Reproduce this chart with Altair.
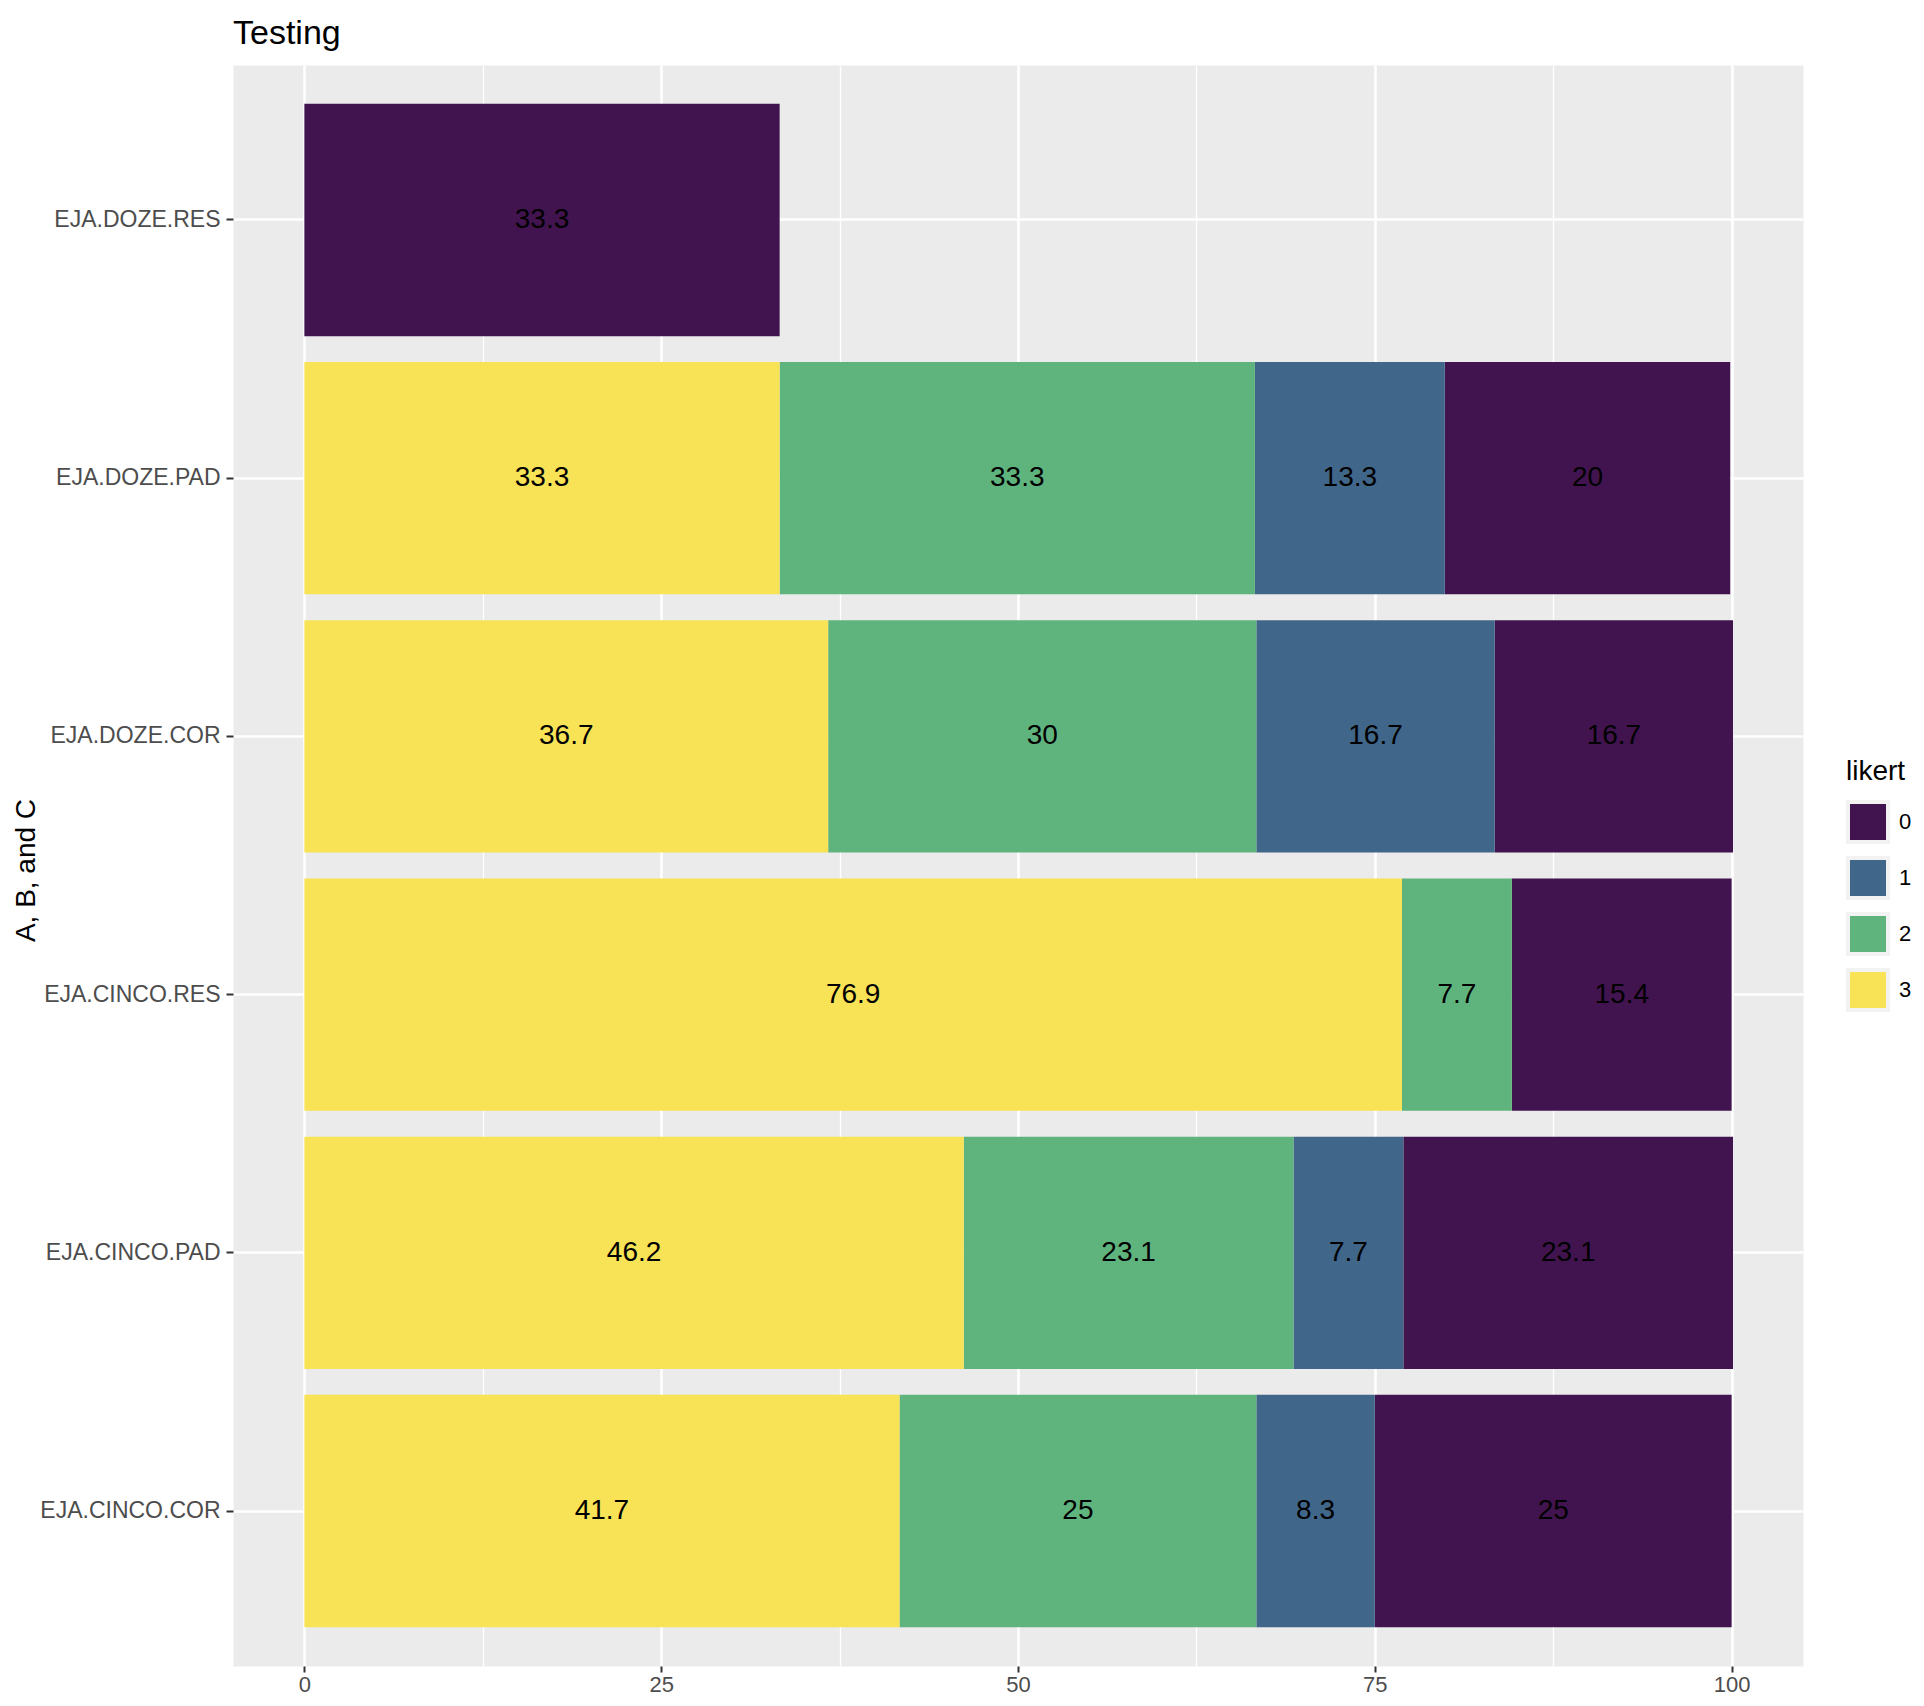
import altair as alt
import pandas as pd

categories = ["EJA.DOZE.RES", "EJA.DOZE.PAD", "EJA.DOZE.COR",
              "EJA.CINCO.RES", "EJA.CINCO.PAD", "EJA.CINCO.COR"]
likert_levels = ["0", "1", "2", "3"]
level_colors = ["#42144F", "#40668A", "#5FB47E", "#F8E356"]

# percentage of each likert level per category (None = level absent)
pct_0 = [33.3, 20, 16.7, 15.4, 23.1, 25]
pct_1 = [None, 13.3, 16.7, None, 7.7, 8.3]
pct_2 = [None, 33.3, 30, 7.7, 23.1, 25]
pct_3 = [None, 33.3, 36.7, 76.9, 46.2, 41.7]

x_tick_values = [0, 12.5, 25, 37.5, 50, 62.5, 75, 87.5, 100]

rows = []
for lvl, series in zip(likert_levels, [pct_0, pct_1, pct_2, pct_3]):
    for cat, v in zip(categories, series):
        if v is not None:
            rows.append({"cat": cat, "likert": lvl, "value": v})
df = pd.DataFrame(rows)

FONT = "Liberation Sans"

base = alt.Chart(df).transform_stack(
    stack="value",
    groupby=["cat"],
    as_=["x0", "x1"],
    sort=[alt.SortField("likert", order="descending")],
).transform_calculate(mid="(datum.x0 + datum.x1) / 2")

y_enc = alt.Y(
    "cat:N",
    sort=categories,
    scale=alt.Scale(paddingInner=0.1, paddingOuter=0.15),
    axis=alt.Axis(
        title="A, B, and C",
        bandPosition=0.5,
        grid=True,
        gridColor="white",
        gridWidth=2.6,
        gridOpacity=1,
        domain=False,
        tickColor="#333333",
        tickWidth=2,
        tickSize=7,
        labelFontSize=23,
        labelColor="#4D4D4D",
        labelFont=FONT,
        labelPadding=6,
        labelLimit=0,
        titleFont=FONT,
        titleFontSize=28,
        titleFontWeight="normal",
        titleColor="black",
        titleX=-199,
        titleY=805,
        titleAngle=270,
        titleAlign="center",
        titleBaseline="alphabetic",
    ),
)

x_scale = alt.Scale(domain=[-5, 105], nice=False, zero=False)

bars = base.mark_bar().encode(
    y=y_enc,
    x=alt.X(
        "x0:Q",
        scale=x_scale,
        title=None,
        axis=alt.Axis(
            values=x_tick_values,
            labelExpr="datum.value % 25 == 0 ? datum.label : ''",
            tickOpacity={"condition": {"test": "datum.value % 25 != 0", "value": 0}, "value": 1},
            gridWidth={"condition": {"test": "datum.value % 25 != 0", "value": 1.3}, "value": 2.6},
            gridColor="white",
            gridOpacity=1,
            domain=False,
            tickColor="#333333",
            tickWidth=2,
            tickSize=6,
            labelFontSize=22,
            labelColor="#4D4D4D",
            labelFont=FONT,
            labelPadding=2,
            labelFlush=False,
            labelOverlap=False,
        ),
    ),
    x2="x1:Q",
    color=alt.Color(
        "likert:N",
        scale=alt.Scale(domain=likert_levels, range=level_colors),
        legend=alt.Legend(
            title="likert",
            orient="none",
            legendX=1613,
            legendY=693,
            padding=0,
            offset=0,
            titleFont=FONT,
            titleFontSize=28,
            titleFontWeight="normal",
            titleColor="black",
            titlePadding=14,
            labelFont=FONT,
            labelFontSize=22,
            labelColor="black",
            labelOffset=9,
            symbolType="square",
            symbolSize=1600,
            symbolStrokeColor="#F2F2F2",
            symbolStrokeWidth=4,
            symbolOpacity=1,
            rowPadding=0,
        ),
    ),
)

labels = base.mark_text(fontSize=28, color="black", font=FONT).encode(
    y=alt.Y("cat:N", sort=categories),
    x=alt.X("mid:Q", scale=x_scale),
    text=alt.Text("value:Q", format="~g"),
)

chart = alt.layer(bars, labels).properties(
    width=1570,
    height=1601,
    title=alt.TitleParams(
        text="Testing",
        anchor="start",
        frame="group",
        fontSize=34,
        fontWeight="normal",
        color="black",
        font=FONT,
        offset=14,
    ),
    autosize=alt.AutoSizeParams(type="none"),
    padding={"left": 225, "top": 57, "right": 108, "bottom": 32},
).configure(
    font=FONT,
    background="white",
).configure_view(
    fill="#EBEBEB",
    stroke="transparent",
)

chart.save("out.html", embed_options={"renderer": "svg", "actions": False})
